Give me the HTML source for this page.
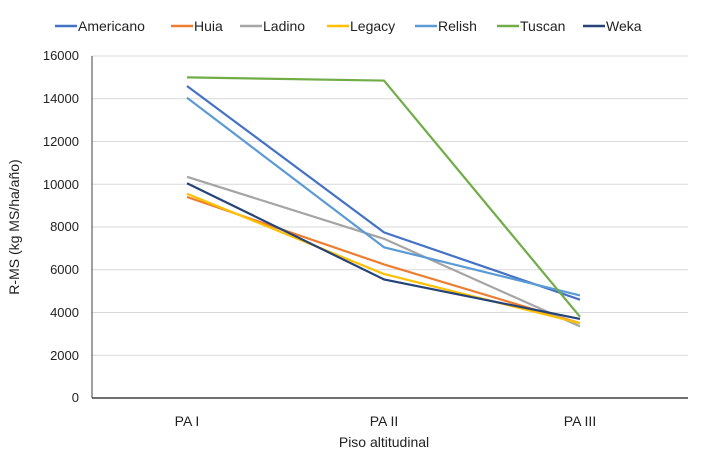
<!DOCTYPE html><html><head><meta charset="utf-8"><style>body{margin:0;background:#fff}svg{font-family:"Liberation Sans",sans-serif}</style></head><body>
<svg width="709" height="462" viewBox="0 0 709 462">
<g stroke="#d9d9d9" stroke-width="1">
<line x1="92" x2="688" y1="355.3" y2="355.3"/><line x1="92" x2="688" y1="312.5" y2="312.5"/><line x1="92" x2="688" y1="269.8" y2="269.8"/><line x1="92" x2="688" y1="227" y2="227"/><line x1="92" x2="688" y1="184.3" y2="184.3"/><line x1="92" x2="688" y1="141.5" y2="141.5"/><line x1="92" x2="688" y1="98.8" y2="98.8"/><line x1="92" x2="688" y1="56" y2="56"/>
</g>
<line x1="92" x2="688" y1="398" y2="398" stroke="#404040" stroke-width="1.5"/>
<line x1="92" x2="92" y1="56" y2="398" stroke="#404040" stroke-width="1"/>
<g font-size="13" fill="#222" text-anchor="end">
<text x="79" y="402">0</text><text x="79" y="360">2000</text><text x="79" y="317">4000</text><text x="79" y="274">6000</text><text x="79" y="231">8000</text><text x="79" y="189">10000</text><text x="79" y="146">12000</text><text x="79" y="103">14000</text><text x="79" y="60">16000</text>
</g>
<g font-size="14" fill="#222" text-anchor="middle">
<text x="187" y="426">PA I</text><text x="384" y="426">PA II</text><text x="580" y="426">PA III</text>
<text x="384" y="447">Piso altitudinal</text>
<text transform="translate(19,227) rotate(-90)">R-MS (kg MS/ha/año)</text>
</g>
<g fill="none" stroke-width="2.2">
<polyline stroke="#4472c4" points="187,86 384,232.4 580,299.7"/>
<polyline stroke="#ed7d31" points="187,197 384,264.4 580,323.2"/>
<polyline stroke="#a5a5a5" points="187,176.8 384,238.8 580,326.4"/>
<polyline stroke="#ffc000" points="187,193.8 384,274 580,323.2"/>
<polyline stroke="#5b9bd5" points="187,97.7 384,247.3 580,295.4"/>
<polyline stroke="#70ad47" points="187,77.4 384,80.6 580,316.8"/>
<polyline stroke="#264478" points="187,183.2 384,279.4 580,318.9"/>
</g>
<g font-size="14" fill="#222" stroke-width="2.5">
<line x1="55" x2="77" y1="26" y2="26" stroke="#4472c4"/><text x="78" y="31">Americano</text>
<line x1="171" x2="193" y1="26" y2="26" stroke="#ed7d31"/><text x="194" y="31">Huia</text>
<line x1="240" x2="262" y1="26" y2="26" stroke="#a5a5a5"/><text x="263" y="31">Ladino</text>
<line x1="327" x2="349" y1="26" y2="26" stroke="#ffc000"/><text x="350" y="31">Legacy</text>
<line x1="415" x2="437" y1="26" y2="26" stroke="#5b9bd5"/><text x="438" y="31">Relish</text>
<line x1="497" x2="519" y1="26" y2="26" stroke="#70ad47"/><text x="520" y="31">Tuscan</text>
<line x1="583" x2="605" y1="26" y2="26" stroke="#264478"/><text x="606" y="31">Weka</text>
</g>
</svg></body></html>
